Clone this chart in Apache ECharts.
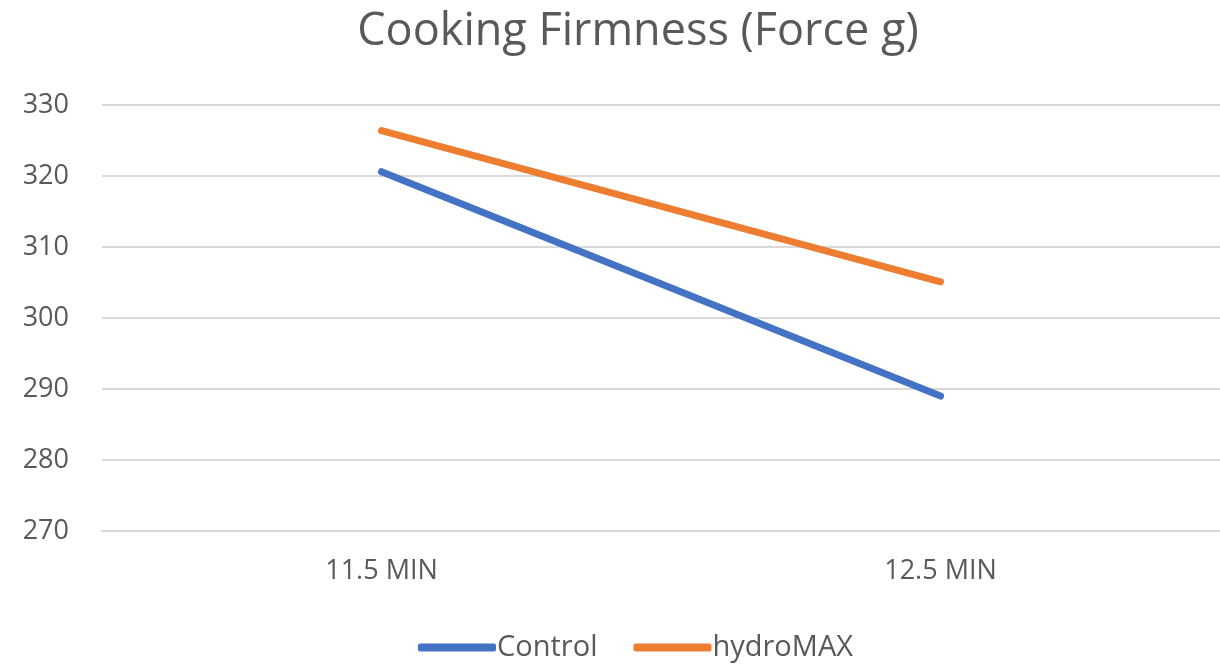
<!DOCTYPE html>
<html>
<head>
<meta charset="utf-8">
<script src="https://cdn.jsdelivr.net/npm/echarts@6/dist/echarts.min.js"></script>
<style>
  html, body { margin: 0; padding: 0; background: #fff; }
  #chart { width: 1220px; height: 664px; }
</style>
</head>
<body>
<div id="chart"></div>
<script>
// data
const categories = ["11.5 MIN", "12.5 MIN"];
const controlValues = [320.6, 289.0];
const hydroMaxValues = [326.4, 305.1];
const yTicks = { min: 270, max: 330, interval: 10 };

const textColor = "#595959";
const fontFamily = "'Open Sans', 'Noto Sans', sans-serif";

const chart = echarts.init(document.getElementById("chart"));

const option = {
  backgroundColor: "#fff",
  animation: false,
  title: {
    text: "Cooking Firmness (Force g)",
    left: 633,
    top: 5,
    textAlign: "center",
    textStyle: {
      fontSize: 45,
      fontWeight: "normal",
      color: textColor,
      fontFamily: fontFamily,
    },
  },
  legend: {
    top: 628,
    left: 413,
    itemWidth: 78,
    itemHeight: 8,
    itemGap: 36,
    icon: "roundRect",
    textStyle: {
      fontSize: 29,
      color: textColor,
      fontFamily: fontFamily,
      padding: [0, 0, 0, -4],
    },
    data: ["Control", "hydroMAX"],
  },
  grid: {
    left: 102,
    top: 105,
    right: 0,
    height: 426,
  },
  xAxis: {
    type: "category",
    data: categories,
    boundaryGap: true,
    axisLine: { lineStyle: { color: "#d9d9d9", width: 2 } },
    axisTick: { show: false },
    axisLabel: {
      fontSize: 27,
      color: textColor,
      fontFamily: fontFamily,
      margin: 27,
    },
  },
  yAxis: {
    type: "value",
    min: yTicks.min,
    max: yTicks.max,
    interval: yTicks.interval,
    axisLine: { show: false },
    axisTick: { show: false },
    splitLine: { lineStyle: { color: "#d9d9d9", width: 2 } },
    axisLabel: {
      fontSize: 27,
      color: textColor,
      fontFamily: fontFamily,
      margin: 33,
    },
  },
  series: [
    {
      name: "Control",
      type: "line",
      data: controlValues,
      symbol: "none",
      lineStyle: { color: "#4472c4", width: 7, cap: "round" },
      itemStyle: { color: "#4472c4" },
    },
    {
      name: "hydroMAX",
      type: "line",
      data: hydroMaxValues,
      symbol: "none",
      lineStyle: { color: "#ed7d31", width: 7, cap: "round" },
      itemStyle: { color: "#ed7d31" },
    },
  ],
};

chart.setOption(option);
</script>
</body>
</html>
